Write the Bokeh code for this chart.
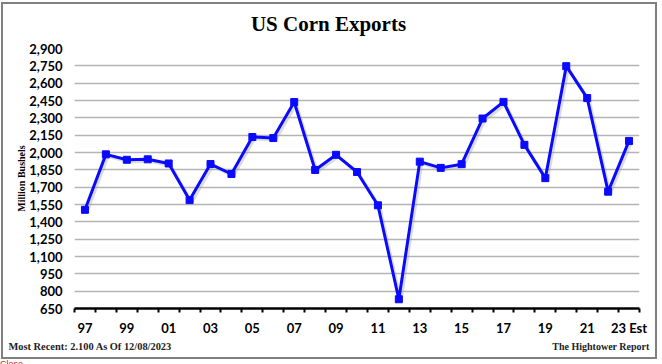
from bokeh.plotting import figure
from bokeh.layouts import column
from bokeh.models import (Range1d, FixedTicker, NumeralTickFormatter, ColumnDataSource, Div)
from bokeh.core.properties import value
from bokeh.transform import dodge
from bokeh.embed import file_html
from bokeh.resources import INLINE

# ---- data ----
years = [1997, 1998, 1999, 2000, 2001, 2002, 2003, 2004, 2005, 2006, 2007, 2008, 2009,
         2010, 2011, 2012, 2013, 2014, 2015, 2016, 2017, 2018, 2019, 2020, 2021, 2022, 2023]
exports = [1504, 1984, 1937, 1941, 1905, 1588, 1900, 1814, 2134, 2125, 2437, 1849, 1980,
           1831, 1543, 730, 1921, 1867, 1899, 2294, 2438, 2066, 1778, 2747, 2471, 1661, 2100]
label_years = [1997, 1999, 2001, 2003, 2005, 2007, 2009, 2011, 2013, 2015, 2017, 2019, 2021, 2023]
label_texts = ["97", "99", "01", "03", "05", "07", "09", "11", "13", "15", "17", "19", "21", "23 Est"]
y_ticks = [650, 800, 950, 1100, 1250, 1400, 1550, 1700, 1850, 2000, 2150, 2300, 2450, 2600, 2750, 2900]

title_text = "US Corn Exports"
y_label = "Million Bushels"
footer_left = "Most Recent: 2.100 As Of 12/08/2023"
footer_right = "The Hightower Report"
close_text = "Close"

BLUE = "#0a0aff"
src = ColumnDataSource(dict(x=years, y=exports))


def strip(height):
    s = figure(width=652, height=height, output_backend="svg", toolbar_location=None,
               x_range=Range1d(0, 652), y_range=Range1d(0, height),
               x_axis_type=None, y_axis_type=None, min_border=0, frame_align=False)
    s.outline_line_color = None
    s.grid.visible = False
    s.background_fill_color = "white"
    s.border_fill_color = "white"
    return s


# ---------------- title strip ----------------
h = strip(34)
h.text(x=[325], y=[15], text=[title_text], text_align="center", text_baseline="middle",
       text_font=value("Liberation Serif"), text_font_style="bold", text_font_size="21px",
       text_color="black")

# ---------------- main chart ----------------
p = figure(width=652, height=300, output_backend="svg", toolbar_location=None,
           x_range=Range1d(years[0] - 0.5, years[-1] + 0.5),
           y_range=Range1d(y_ticks[0], y_ticks[-1]),
           min_border_left=71, min_border_right=16, min_border_top=10, min_border_bottom=29,
           frame_align=False)
p.outline_line_color = None
p.background_fill_color = "white"
p.border_fill_color = "white"

p.xgrid.visible = False
p.ygrid.grid_line_color = "#b4b4b4"
p.ygrid.grid_line_width = 1.5

p.yaxis.ticker = FixedTicker(ticks=y_ticks)
p.yaxis.formatter = NumeralTickFormatter(format="0,0")
p.yaxis.axis_line_color = None
p.yaxis.major_tick_line_color = None
p.yaxis.minor_tick_line_color = None
p.yaxis.major_tick_out = 0
p.yaxis.major_tick_in = 0
p.yaxis.major_label_standoff = 12
p.yaxis.major_label_text_font = "Lato"
p.yaxis.major_label_text_font_style = "bold"
p.yaxis.major_label_text_font_size = "13px"
p.yaxis.major_label_text_color = "black"
p.yaxis.axis_label = y_label
p.yaxis.axis_label_standoff = -1
p.yaxis.axis_label_text_font = "Liberation Serif"
p.yaxis.axis_label_text_font_style = "bold"
p.yaxis.axis_label_text_font_size = "10px"
p.yaxis.axis_label_text_color = "black"

bounds = [y - 0.5 for y in years] + [years[-1] + 0.5]
p.xaxis.ticker = FixedTicker(ticks=label_years, minor_ticks=bounds)
p.xaxis.major_label_overrides = {y: t for y, t in zip(label_years, label_texts)}
p.xaxis.axis_line_color = "black"
p.xaxis.axis_line_width = 2.5
p.xaxis.major_tick_line_color = None
p.xaxis.major_tick_out = 0
p.xaxis.major_tick_in = 0
p.xaxis.minor_tick_line_color = "black"
p.xaxis.minor_tick_line_width = 2
p.xaxis.minor_tick_out = 4
p.xaxis.minor_tick_in = 0
p.xaxis.major_label_standoff = 7
p.xaxis.major_label_text_font = "Lato"
p.xaxis.major_label_text_font_style = "bold"
p.xaxis.major_label_text_font_size = "13px"
p.xaxis.major_label_text_color = "black"

# soft drop shadow, then the series
p.line(x=dodge("x", 0.1, range=p.x_range), y=dodge("y", -18, range=p.y_range), source=src,
       line_color="#9a9a9a", line_width=3, line_alpha=0.35)
p.line("x", "y", source=src, line_color=BLUE, line_width=3)
p.scatter("x", "y", source=src, marker="square", size=7, fill_color=BLUE, line_color=BLUE)

# ---------------- footer strip ----------------
f = strip(19)
f.text(x=[5], y=[11], text=[footer_left], text_align="left", text_baseline="middle",
       text_font=value("Liberation Serif"), text_font_style="bold", text_font_size="10.4px",
       text_color="#222222")
f.text(x=[646], y=[11], text=[footer_right], text_align="right", text_baseline="middle",
       text_font=value("Liberation Serif"), text_font_style="bold", text_font_size="10px",
       text_color="#222222")

boxed = column(h, p, f, spacing=0, margin=(2, 0, 0, 1),
               styles={"border": "2px solid #808080", "box-sizing": "content-box"})
close = Div(text=close_text, margin=0,
            styles={"color": "#cc2222", "font-size": "9px", "font-family": "Liberation Sans",
                    "line-height": "10px"})
root = column(boxed, close, spacing=0, margin=0)

open("out.html", "w").write(file_html(root, INLINE))
